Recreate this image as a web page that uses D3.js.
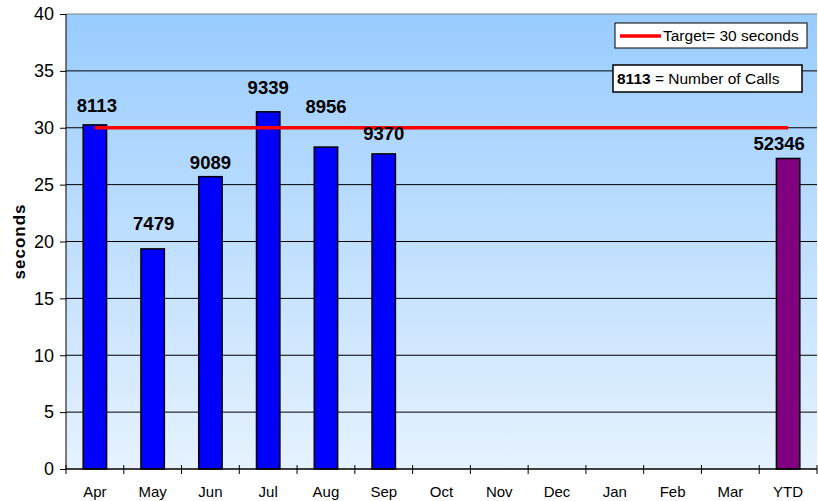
<!DOCTYPE html>
<html>
<head>
<meta charset="utf-8">
<script src="https://cdn.jsdelivr.net/npm/d3@7"></script>
<style>
  body { margin: 0; background: #fff; }
  svg { display: block; font-family: Arial, "Liberation Sans", sans-serif; }
</style>
</head>
<body>
<div id="chart"></div>
<script>
var width = 818;
var height = 501;

// data
var months = ["Apr", "May", "Jun", "Jul", "Aug", "Sep", "Oct", "Nov", "Dec", "Jan", "Feb", "Mar", "YTD"];
var seconds = [30.25, 19.35, 25.7, 31.4, 28.3, 27.7, null, null, null, null, null, null, 27.3];
var calls = [8113, 7479, 9089, 9339, 8956, 9370, null, null, null, null, null, null, 52346];
var target = 30;
var yTicks = [0, 5, 10, 15, 20, 25, 30, 35, 40];

// hand-placed label nudges (px) like the original sheet
var labelLift = {Apr: 13, May: 19, Jun: 8, Jul: 18, Aug: 34, Sep: 14, YTD: 8};
var labelShift = {Apr: 2, May: 1, Jun: 0, Jul: 0, Aug: 0, Sep: 0, YTD: -9};

var margin = {top: 14, right: 1, bottom: 32, left: 66};
var innerW = width - margin.left - margin.right;
var innerH = height - margin.top - margin.bottom;

var svg = d3.select("#chart").append("svg")
  .attr("width", width)
  .attr("height", height);

var defs = svg.append("defs");
var grad = defs.append("linearGradient")
  .attr("id", "bg")
  .attr("x1", 0).attr("y1", 0).attr("x2", 0).attr("y2", 1);
grad.append("stop").attr("offset", "0%").attr("stop-color", "#99CCFF");
grad.append("stop").attr("offset", "100%").attr("stop-color", "#E6F2FE");

var g = svg.append("g")
  .attr("transform", "translate(" + margin.left + "," + margin.top + ")");

var x = d3.scaleBand()
  .domain(months)
  .range([0, innerW])
  .paddingInner(0.595)
  .paddingOuter(0.2975);

var y = d3.scaleLinear()
  .domain([0, 40])
  .range([innerH, 0]);

// plot background
g.append("rect")
  .attr("width", innerW)
  .attr("height", innerH)
  .attr("fill", "url(#bg)");

// gridlines
g.selectAll(".grid")
  .data(yTicks.filter(function(d) { return d > 0; }))
  .enter().append("line")
  .attr("x1", 0).attr("x2", innerW)
  .attr("y1", function(d) { return y(d); })
  .attr("y2", function(d) { return y(d); })
  .attr("stroke", function(d) { return d === 40 ? "#808080" : "#000"; })
  .attr("stroke-width", 1);

// bars
var bars = months.map(function(m, i) { return {m: m, v: seconds[i], c: calls[i]}; })
  .filter(function(d) { return d.v !== null; });

g.selectAll(".bar")
  .data(bars)
  .enter().append("rect")
  .attr("x", function(d) { return x(d.m); })
  .attr("y", function(d) { return y(d.v); })
  .attr("width", x.bandwidth())
  .attr("height", function(d) { return innerH - y(d.v); })
  .attr("fill", function(d) { return d.m === "YTD" ? "#800080" : "#0000FF"; })
  .attr("stroke", "#000")
  .attr("stroke-width", 1.5);

// target line
g.append("line")
  .attr("x1", x("Apr") + x.bandwidth() / 2)
  .attr("x2", x("YTD") + x.bandwidth() / 2)
  .attr("y1", y(target))
  .attr("y2", y(target))
  .attr("stroke", "#FF0000")
  .attr("stroke-width", 3.5);

// value labels
g.selectAll(".lbl")
  .data(bars)
  .enter().append("text")
  .attr("x", function(d) { return x(d.m) + x.bandwidth() / 2 + labelShift[d.m]; })
  .attr("y", function(d) { return y(d.v) - labelLift[d.m]; })
  .attr("text-anchor", "middle")
  .attr("font-size", "18.5px")
  .attr("font-weight", "bold")
  .attr("fill", "#000")
  .text(function(d) { return d.c; });

// y axis
var yAxis = g.append("g")
  .call(d3.axisLeft(y).tickValues(yTicks).tickSize(6).tickPadding(6).tickFormat(d3.format("d")));
yAxis.select(".domain").attr("stroke", "#000").attr("d", "M0," + innerH + "V0");
yAxis.selectAll("text").attr("font-size", "18px").attr("fill", "#000").attr("font-family", "Arial, sans-serif");
yAxis.selectAll("line").attr("stroke", "#000");

// x axis: ticks at band boundaries, crossing the axis line
var xAxis = g.append("g").attr("transform", "translate(0," + innerH + ")");
xAxis.append("line")
  .attr("x1", 0).attr("x2", innerW)
  .attr("stroke", "#000").attr("stroke-width", 1.5);
var step = x.step();
xAxis.selectAll(".tk")
  .data(d3.range(months.length + 1))
  .enter().append("line")
  .attr("x1", function(i) { return i * step; })
  .attr("x2", function(i) { return i * step; })
  .attr("y1", -4).attr("y2", 5)
  .attr("stroke", "#000");
xAxis.selectAll(".xl")
  .data(months)
  .enter().append("text")
  .attr("x", function(d) { return x(d) + x.bandwidth() / 2; })
  .attr("y", 28)
  .attr("text-anchor", "middle")
  .attr("font-size", "15px")
  .attr("fill", "#000")
  .text(function(d) { return d; });

// y label
svg.append("text")
  .attr("transform", "translate(25," + (margin.top + innerH / 2) + ") rotate(-90)")
  .attr("text-anchor", "middle")
  .attr("font-size", "17px")
  .attr("font-weight", "bold")
  .attr("letter-spacing", "1px")
  .text("seconds");

// legend: target
var leg1 = svg.append("g").attr("transform", "translate(615,23)");
leg1.append("rect")
  .attr("width", 192).attr("height", 25)
  .attr("fill", "#fff").attr("stroke", "#000").attr("stroke-width", 1);
leg1.append("line")
  .attr("x1", 5).attr("x2", 46).attr("y1", 13).attr("y2", 13)
  .attr("stroke", "#FF0000").attr("stroke-width", 3.5);
leg1.append("text")
  .attr("x", 48).attr("y", 18)
  .attr("font-size", "15.5px")
  .text("Target= 30 seconds");

// legend: number of calls
var leg2 = svg.append("g").attr("transform", "translate(613,65)");
leg2.append("rect")
  .attr("width", 189).attr("height", 27)
  .attr("fill", "#fff").attr("stroke", "#000").attr("stroke-width", 1.5);
var t2 = leg2.append("text")
  .attr("x", 4).attr("y", 19)
  .attr("font-size", "15.5px");
t2.append("tspan").attr("font-weight", "bold").text("8113");
t2.append("tspan").text(" = Number of Calls");
</script>
</body>
</html>
